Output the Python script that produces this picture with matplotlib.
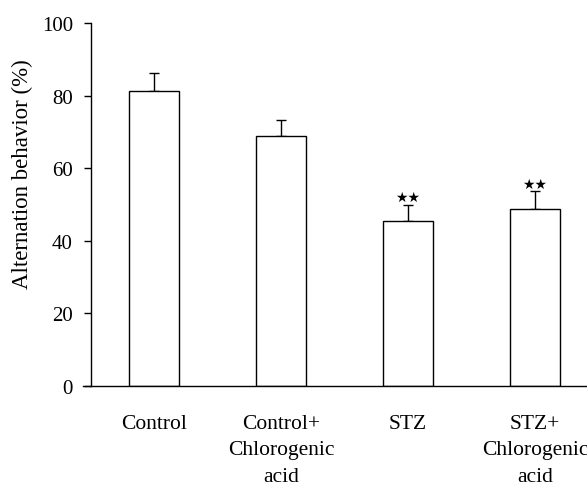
import matplotlib
matplotlib.use('Agg')
import matplotlib.pyplot as plt

# values
groups = ['Control', 'Control+\nChlorogenic\nacid', 'STZ', 'STZ+\nChlorogenic\nacid']
means = [81.3, 69.0, 45.5, 48.7]
errs = [4.9, 4.4, 4.4, 4.9]
marks = ['', '', '**', '**']

plt.rc('font', family='Liberation Serif', size=15)

fig = plt.figure(figsize=(5.87, 4.89), dpi=100)
ax = fig.add_axes([0.155, 0.2086, 0.845, 0.7424])

x = list(range(len(groups)))
ax.bar(x, means, width=0.4, color='white', edgecolor='black', linewidth=1.0, zorder=2)
ax.errorbar(x, means, yerr=[[0] * len(errs), errs], fmt='none', ecolor='black',
            elinewidth=1.0, capsize=3.8, capthick=1.0, zorder=1)

for xi, m, e, s in zip(x, means, errs, marks):
    if s:
        ax.text(xi, m + e + 0.2, '\u2605\u2605', ha='center', va='bottom',
                fontsize=10, family='DejaVu Sans')

ax.set_xlim(-0.496, 3.41)
ax.set_ylim(0, 100)
ax.set_yticks([0, 20, 40, 60, 80, 100])
ax.set_xticks(x)
ax.set_xticklabels(groups, linespacing=1.55, fontsize=15.5)
ax.tick_params(axis='x', length=0, pad=20)
ax.tick_params(axis='y', direction='out', length=5, width=1.0, pad=8)

ax.spines['top'].set_visible(False)
ax.spines['right'].set_visible(False)
ax.spines['left'].set_linewidth(1.0)
ax.spines['bottom'].set_linewidth(1.0)
ax.spines['bottom'].set_bounds(-0.555, 3.41)

ax.set_ylabel('Alternation behavior (%)', fontsize=16.5)
ax.yaxis.set_label_coords(-0.117, 0.587)

plt.savefig('out.png', dpi=100)
